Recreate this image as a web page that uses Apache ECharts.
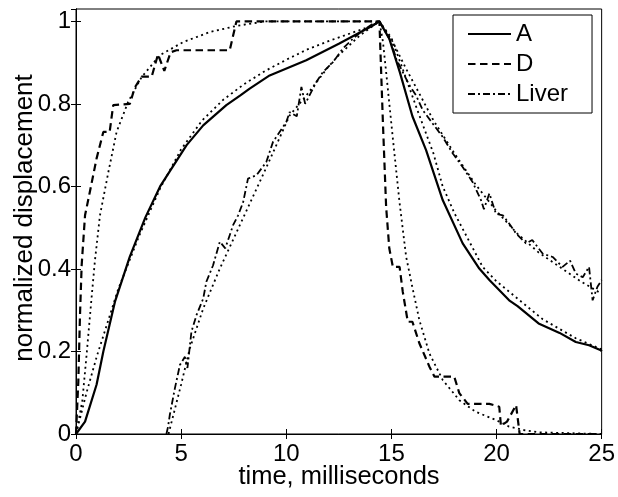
<!DOCTYPE html>
<html>
<head>
<meta charset="utf-8">
<script src="https://cdn.jsdelivr.net/npm/echarts@6/dist/echarts.min.js"></script>
<style>
html,body{margin:0;padding:0;background:#fff;}
#chart{width:618px;height:497px;}
</style>
</head>
<body>
<div id="chart"></div>
<script>
// ---- data ----
const xTicks = [0, 5, 10, 15, 20, 25];
const yTicks = [0, 0.2, 0.4, 0.6, 0.8, 1];
const legendNames = ['A', 'D', 'Liver'];

const tA = [0, 0.43, 0.98, 1.3, 1.85, 2.56, 3.3, 4.0, 5.26, 6.05, 7.15, 7.8, 8.26, 9.21, 10.95, 12.5, 14.12, 14.43, 14.9, 15.4, 16.0, 16.65, 17.44, 18.39, 19.18, 19.66, 20.6, 21.0, 22.0, 23.0, 23.77, 24.4, 24.96, 25];
const yA = [0, 0.03, 0.12, 0.2, 0.32, 0.43, 0.525, 0.6, 0.7, 0.748, 0.797, 0.82, 0.837, 0.869, 0.906, 0.946, 0.99, 1.0, 0.958, 0.877, 0.77, 0.688, 0.567, 0.462, 0.401, 0.373, 0.324, 0.31, 0.268, 0.245, 0.223, 0.215, 0.203, 0.2];

const tAfit = [0, 0.5, 1, 2, 3, 4, 5, 6, 7, 8, 9, 10, 11, 12, 13, 14, 14.43, 15, 15.5, 16.2, 17, 17.44, 18, 19.34, 20, 21.1, 22.2, 23.77, 25];
const yAfit = [0, 0.1, 0.19, 0.35, 0.48, 0.595, 0.69, 0.76, 0.81, 0.848, 0.88, 0.907, 0.932, 0.952, 0.97, 0.988, 1.0, 0.96, 0.89, 0.79, 0.68, 0.6, 0.535, 0.405, 0.37, 0.324, 0.278, 0.232, 0.205];

const tD = [0, 0.11, 0.19, 0.27, 0.43, 0.66, 0.98, 1.3, 1.6, 1.77, 2.56, 2.8, 3.12, 3.6, 3.9, 4.2, 4.5, 4.78, 7.31, 7.63, 14.43, 14.6, 14.75, 14.9, 15.07, 15.39, 15.54, 15.78, 16.0, 16.33, 16.81, 17.05, 17.99, 18.23, 18.63, 19.66, 20.13, 20.21, 20.5, 20.93, 21.1, 25];
const yD = [0, 0.127, 0.288, 0.41, 0.53, 0.587, 0.668, 0.732, 0.732, 0.797, 0.8, 0.84, 0.866, 0.866, 0.92, 0.88, 0.925, 0.93, 0.93, 1.0, 1.0, 0.75, 0.55, 0.45, 0.405, 0.405, 0.345, 0.272, 0.272, 0.22, 0.163, 0.139, 0.139, 0.099, 0.073, 0.073, 0.066, 0.02, 0.03, 0.07, 0, 0];

const tDfit = [0, 0.3, 0.5, 0.74, 0.9, 1.14, 1.54, 1.93, 2.48, 3.12, 3.99, 5.1, 6.36, 7.63, 9, 14.43, 14.6, 14.75, 15.07, 15.39, 15.7, 16.0, 16.33, 16.81, 17.44, 18.23, 19.0, 19.97, 20.6, 21.24, 22, 25];
const yDfit = [0, 0.08, 0.19, 0.33, 0.42, 0.53, 0.635, 0.732, 0.805, 0.865, 0.918, 0.95, 0.974, 0.989, 1.0, 1.0, 0.95, 0.877, 0.716, 0.56, 0.43, 0.355, 0.276, 0.195, 0.131, 0.082, 0.054, 0.034, 0.018, 0.01, 0.004, 0];

const tL = [4.3, 4.38, 4.46, 4.7, 4.94, 5.18, 5.3, 5.49, 5.73, 6.05, 6.2, 6.52, 6.84, 7.1, 7.47, 7.71, 7.95, 8.18, 8.58, 9.05, 9.37, 10.0, 10.16, 10.5, 10.72, 10.9, 11.43, 11.74, 12.22, 12.69, 13.17, 13.64, 14.12, 14.43, 14.99, 15.23, 15.54, 15.86, 16.18, 16.49, 16.97, 17.44, 17.92, 18.39, 18.86, 19.26, 19.4, 19.66, 19.97, 20.3, 20.6, 20.93, 21.4, 21.7, 22.2, 22.67, 23.14, 23.5, 23.77, 24.1, 24.4, 24.57, 24.8, 25];
const yL = [0, 0.018, 0.046, 0.11, 0.167, 0.187, 0.16, 0.248, 0.288, 0.328, 0.369, 0.409, 0.466, 0.45, 0.506, 0.53, 0.562, 0.619, 0.627, 0.659, 0.708, 0.756, 0.78, 0.77, 0.841, 0.8, 0.853, 0.877, 0.901, 0.934, 0.958, 0.978, 0.994, 1.0, 0.95, 0.909, 0.877, 0.845, 0.82, 0.785, 0.752, 0.72, 0.68, 0.647, 0.611, 0.567, 0.545, 0.583, 0.534, 0.53, 0.51, 0.486, 0.462, 0.47, 0.437, 0.429, 0.405, 0.42, 0.389, 0.38, 0.405, 0.324, 0.357, 0.373];

const tLfit = [4.4, 5, 5.41, 6.05, 6.84, 7.79, 9, 10.16, 10.95, 12, 12.5, 13.5, 14.43, 15.07, 15.7, 16.33, 17, 18, 19, 20, 21, 22, 23, 24, 25];
const yLfit = [0, 0.12, 0.207, 0.304, 0.401, 0.506, 0.64, 0.772, 0.82, 0.89, 0.918, 0.966, 1.0, 0.95, 0.885, 0.825, 0.76, 0.68, 0.605, 0.54, 0.485, 0.44, 0.405, 0.37, 0.34];

// ---- build ----
const zip = (t, y) => t.map((v, i) => [v, y[i]]);
const FONT = "'Liberation Sans', Arial, Helvetica, sans-serif";
const DOT = [2, 3.5];
const DASH = [7.5, 4.5];
const DASHDOT = [7, 3, 2, 3];

function lineSeries(name, t, y, type, width) {
  return {
    name: name, type: 'line', data: zip(t, y), showSymbol: false, symbol: 'none',
    smooth: false, animation: false, silent: true,
    lineStyle: { color: '#000', width: width, type: type, cap: 'butt' },
    itemStyle: { color: '#000' }, z: 3
  };
}

const chart = echarts.init(document.getElementById('chart'), null, { renderer: 'canvas' });
const axisCommon = {
  min: 0, axisLine: { show: true, lineStyle: { color: '#000', width: 1 } },
  axisTick: { show: true, inside: true, length: 5, lineStyle: { color: '#000', width: 1 } },
  splitLine: { show: false }
};
const option = {
  backgroundColor: '#fff',
  animation: false,
  grid: { left: 76, right: 16, top: 9, bottom: 63, show: true, borderColor: '#000', borderWidth: 1, backgroundColor: 'transparent' },
  legend: {
    data: legendNames, orient: 'vertical', left: 453, top: 15,
    padding: [7, 24, 7, 14], itemGap: 6, itemWidth: 43, itemHeight: 14, itemTextGap: 12,
    backgroundColor: '#fff', borderColor: '#000', borderWidth: 1, borderRadius: 0,
    itemStyle: { opacity: 0, borderWidth: 0 },
    textStyle: { fontSize: 24, fontFamily: FONT, color: '#000' },
    selectedMode: false
  },
  xAxis: [
    Object.assign({}, axisCommon, {
      type: 'value', max: 25, interval: 5, position: 'bottom',
      axisLabel: { fontSize: 24, fontFamily: FONT, color: '#000', margin: 8,
        formatter: v => (xTicks.includes(v) ? String(v) : '') }
    }),
    Object.assign({}, axisCommon, {
      type: 'value', max: 25, interval: 5, position: 'top', axisLabel: { show: false }
    })
  ],
  yAxis: [
    Object.assign({}, axisCommon, {
      type: 'value', max: 1.03, interval: 0.2, position: 'left',
      axisLabel: { fontSize: 24, fontFamily: FONT, color: '#000', margin: 5, showMaxLabel: false,
        formatter: v => { const r = Math.round(v * 10) / 10; return yTicks.some(k => Math.abs(k - v) < 1e-6) ? String(r) : ''; } }
    }),
    Object.assign({}, axisCommon, {
      type: 'value', max: 1.03, interval: 0.2, position: 'right', axisLabel: { show: false }
    })
  ],
  graphic: [
    { type: 'text', x: 339, y: 477, style: { text: 'time, milliseconds', fontSize: 25.5, fontFamily: FONT, fill: '#000', align: 'center', verticalAlign: 'middle' } },
    { type: 'text', x: 25, y: 218, rotation: Math.PI / 2, style: { text: 'normalized displacement', fontSize: 26, fontFamily: FONT, fill: '#000', align: 'center', verticalAlign: 'middle' } }
  ],
  series: [
    lineSeries('A fit', tAfit, yAfit, DOT, 1.8),
    lineSeries('D fit', tDfit, yDfit, DOT, 1.8),
    lineSeries('Liver fit', tLfit, yLfit, DOT, 1.8),
    lineSeries('A', tA, yA, 'solid', 2.2),
    lineSeries('D', tD, yD, DASH, 2.2),
    lineSeries('Liver', tL, yL, DASHDOT, 1.8)
  ]
};
chart.setOption(option);
</script>
</body>
</html>
